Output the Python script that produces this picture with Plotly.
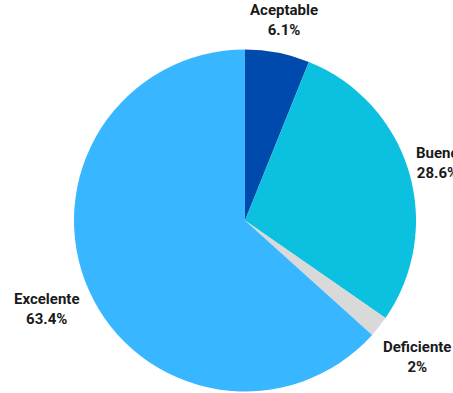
import math
import plotly.graph_objects as go

labels = ["Aceptable", "Bueno", "Deficiente", "Excelente"]
values = [6.1, 28.6, 2, 63.4]
colors = ["#004AAD", "#0CC0DF", "#D9D9D9", "#38B6FF"]

W, H = 453, 393
dom_x = [74 / W, 416 / W]
dom_y = [1 - 392 / H, 1 - 49 / H]
FS = 15

fig = go.Figure(go.Pie(
    labels=labels,
    values=values,
    sort=False,
    direction="clockwise",
    rotation=0,
    marker=dict(colors=colors, line=dict(width=0)),
    textinfo="none",
    automargin=False,
    showlegend=False,
    hoverinfo="skip",
    domain=dict(x=dom_x, y=dom_y),
))

# label placement derived from slice mid-angles
cx = (dom_x[0] + dom_x[1]) / 2 * W
cy = (1 - (dom_y[0] + dom_y[1]) / 2) * H
r = min((dom_x[1] - dom_x[0]) * W, (dom_y[1] - dom_y[0]) * H) / 2
total = sum(values)
cum = 0.0
gap = 6
for lab, v in zip(labels, values):
    mid = (cum + v / 2) / total * 2 * math.pi
    cum += v
    s, c = math.sin(mid), math.cos(mid)
    txt2 = f"{v:g}%"
    hw = 0.5 * 7.6 * max(len(lab), len(txt2))
    hh = 21
    d = r + gap + hw * abs(s) + hh * abs(c)
    px = cx + d * s
    py = cy - d * c
    fig.add_annotation(
        x=px / W, y=1 - py / H, xref="paper", yref="paper",
        text=f"<b>{lab}</b><br><b>{txt2}</b>",
        showarrow=False, xanchor="center", yanchor="middle", align="center",
        font=dict(family="Roboto", size=FS, color="#1a1a1a"),
    )

fig.update_layout(
    width=W, height=H,
    margin=dict(l=0, r=0, t=0, b=0),
    paper_bgcolor="white",
    plot_bgcolor="white",
)
fig.write_html("out.html")
